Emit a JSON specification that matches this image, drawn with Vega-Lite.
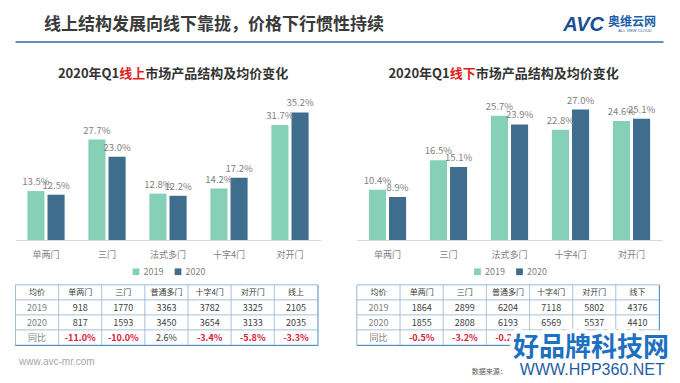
{
"$schema":"https://vega.github.io/schema/vega-lite/v6.json",
"background":"white",
"padding":{"left":14.5,"top":12,"right":10,"bottom":4},
"config":{"view":{"stroke":null},"font":"Noto Sans CJK SC","legend":{"layout":{"bottom":{"anchor":"middle"}}}},
"spacing":6,
"resolve":{"scale":{"color":"independent"}},
"vconcat":[
{"width":648,"height":30,
 "data":{"values":[{}]},
 "layer":[
  {"mark":{"type":"rule","color":"#2e6aa8","strokeWidth":1.5},"encoding":{"y":{"value":"height"}}},
  {"mark":{"type":"text","text":"线上结构发展向线下靠拢，价格下行惯性持续","align":"center","dx":-125.5,"dy":-2,"fontSize":17,"fontWeight":"bold","color":"#3a3a3a"},"encoding":{}},
  {"mark":{"type":"text","text":"AVC","align":"right","dx":-59.5,"dy":-2,"fontSize":20,"fontWeight":"bold","fontStyle":"italic","font":"Liberation Sans","color":"#1c4f94"},"encoding":{"x":{"value":"width"}}},
  {"mark":{"type":"text","text":"奥维云网","align":"left","dx":-55.5,"dy":-5,"fontSize":12,"fontWeight":"bold","color":"#1f5faa"},"encoding":{"x":{"value":"width"}}},
  {"mark":{"type":"text","text":"ALL VIEW CLOUD","align":"center","dx":-28.5,"dy":4,"fontSize":4,"font":"Liberation Sans","color":"#1f5faa"},"encoding":{"x":{"value":"width"}}}
 ]
},
{"columns":2,"spacing":{"row":45,"column":36.5},"bounds":"flush","resolve":{"scale":{"color":"independent"}},
 "concat":[
   {"width":305,"height":1,"data":{"values":[{}]},
    "layer":[
     {"mark":{"type":"text","text":"2020年Q1","align":"right","dx":-48.7,"dy":24,"fontSize":13,"fontWeight":"bold","color":"#333333"},"encoding":{}},
     {"mark":{"type":"text","text":"线上","align":"center","dx":-35.7,"dy":24,"fontSize":13,"fontWeight":"bold","color":"#e31c1c"},"encoding":{}},
     {"mark":{"type":"text","text":"市场产品结构及均价变化","align":"left","dx":-22.7,"dy":24,"fontSize":13,"fontWeight":"bold","color":"#333333"},"encoding":{}}
    ]},
   {"width":305,"height":1,"data":{"values":[{}]},
    "layer":[
     {"mark":{"type":"text","text":"2020年Q1","align":"right","dx":-59.7,"dy":24,"fontSize":13,"fontWeight":"bold","color":"#333333"},"encoding":{}},
     {"mark":{"type":"text","text":"线下","align":"center","dx":-46.7,"dy":24,"fontSize":13,"fontWeight":"bold","color":"#e31c1c"},"encoding":{}},
     {"mark":{"type":"text","text":"市场产品结构及均价变化","align":"left","dx":-33.7,"dy":24,"fontSize":13,"fontWeight":"bold","color":"#333333"},"encoding":{}}
    ]},
   {"width":305,"height":145,
    "data":{"values":[
     {"cat":"单两门","year":"2019","share":0.135},{"cat":"单两门","year":"2020","share":0.125},
     {"cat":"三门","year":"2019","share":0.277},{"cat":"三门","year":"2020","share":0.230},
     {"cat":"法式多门","year":"2019","share":0.128},{"cat":"法式多门","year":"2020","share":0.122},
     {"cat":"十字4门","year":"2019","share":0.142},{"cat":"十字4门","year":"2020","share":0.172},
     {"cat":"对开门","year":"2019","share":0.317},{"cat":"对开门","year":"2020","share":0.352}]},
    "encoding":{
     "x":{"field":"cat","type":"nominal","scale":{"domain":["单两门","三门","法式多门","十字4门","对开门"],"paddingInner":0.39,"paddingOuter":0.195},"axis":{"title":null,"labelAngle":0,"ticks":false,"domainColor":"#d9d9d9","labelColor":"#7f7f7f","labelFontSize":9,"labelPadding":10}},
     "xOffset":{"field":"year","type":"nominal","scale":{"domain":["2019","2020"],"paddingInner":0.15}},
     "y":{"field":"share","type":"quantitative","scale":{"domain":[0,0.4]},"axis":null}},
    "layer":[
     {"mark":"bar","encoding":{"color":{"field":"year","type":"nominal","scale":{"domain":["2019","2020"],"range":["#86d0b8","#3e6d8e"]},"legend":{"title":null,"orient":"bottom","direction":"horizontal","symbolType":"square","symbolSize":45,"labelFontSize":9,"labelColor":"#7f7f7f","offset":8,"columnPadding":10,"labelOffset":3}}}},
     {"mark":{"type":"text","baseline":"alphabetic","dy":-6,"fontSize":9.5,"color":"#7f7f7f"},"encoding":{"text":{"field":"share","type":"quantitative","format":".1%"}}}
    ]},
   {"width":305,"height":145,
    "data":{"values":[
     {"cat":"单两门","year":"2019","share":0.104},{"cat":"单两门","year":"2020","share":0.089},
     {"cat":"三门","year":"2019","share":0.165},{"cat":"三门","year":"2020","share":0.151},
     {"cat":"法式多门","year":"2019","share":0.257},{"cat":"法式多门","year":"2020","share":0.239},
     {"cat":"十字4门","year":"2019","share":0.228},{"cat":"十字4门","year":"2020","share":0.270},
     {"cat":"对开门","year":"2019","share":0.246},{"cat":"对开门","year":"2020","share":0.251}]},
    "encoding":{
     "x":{"field":"cat","type":"nominal","scale":{"domain":["单两门","三门","法式多门","十字4门","对开门"],"paddingInner":0.39,"paddingOuter":0.195},"axis":{"title":null,"labelAngle":0,"ticks":false,"domainColor":"#d9d9d9","labelColor":"#7f7f7f","labelFontSize":9,"labelPadding":10}},
     "xOffset":{"field":"year","type":"nominal","scale":{"domain":["2019","2020"],"paddingInner":0.15}},
     "y":{"field":"share","type":"quantitative","scale":{"domain":[0,0.3]},"axis":null}},
    "layer":[
     {"mark":"bar","encoding":{"color":{"field":"year","type":"nominal","scale":{"domain":["2019","2020"],"range":["#86d0b8","#3e6d8e"]},"legend":{"title":null,"orient":"bottom","direction":"horizontal","symbolType":"square","symbolSize":45,"labelFontSize":9,"labelColor":"#7f7f7f","offset":8,"columnPadding":10,"labelOffset":3}}}},
     {"mark":{"type":"text","baseline":"alphabetic","dy":-6,"fontSize":9.5,"color":"#7f7f7f"},"encoding":{"text":{"field":"share","type":"quantitative","format":".1%"}}}
    ]},
   {"width":302,"height":60,"view":{"stroke":"#2e75b6","strokeWidth":1.2},
    "data":{"values":[
     {"r":"均价","c":"均价","t":"均价"},{"r":"均价","c":"单两门","t":"单两门"},{"r":"均价","c":"三门","t":"三门"},{"r":"均价","c":"普通多门","t":"普通多门"},{"r":"均价","c":"十字4门","t":"十字4门"},{"r":"均价","c":"对开门","t":"对开门"},{"r":"均价","c":"合计","t":"线上"},
     {"r":"2019","c":"均价","t":"2019"},{"r":"2019","c":"单两门","t":"918"},{"r":"2019","c":"三门","t":"1770"},{"r":"2019","c":"普通多门","t":"3363"},{"r":"2019","c":"十字4门","t":"3782"},{"r":"2019","c":"对开门","t":"3325"},{"r":"2019","c":"合计","t":"2105"},
     {"r":"2020","c":"均价","t":"2020"},{"r":"2020","c":"单两门","t":"817"},{"r":"2020","c":"三门","t":"1593"},{"r":"2020","c":"普通多门","t":"3450"},{"r":"2020","c":"十字4门","t":"3654"},{"r":"2020","c":"对开门","t":"3133"},{"r":"2020","c":"合计","t":"2035"},
     {"r":"同比","c":"均价","t":"同比"},{"r":"同比","c":"单两门","t":"-11.0%"},{"r":"同比","c":"三门","t":"-10.0%"},{"r":"同比","c":"普通多门","t":"2.6%"},{"r":"同比","c":"十字4门","t":"-3.4%"},{"r":"同比","c":"对开门","t":"-5.8%"},{"r":"同比","c":"合计","t":"-3.3%"}]},
    "encoding":{
     "x":{"field":"c","type":"nominal","scale":{"domain":["均价","单两门","三门","普通多门","十字4门","对开门","合计"],"paddingInner":0,"paddingOuter":0},"axis":null},
     "y":{"field":"r","type":"nominal","scale":{"domain":["均价","2019","2020","同比"],"paddingInner":0,"paddingOuter":0},"axis":null}},
    "layer":[
     {"mark":{"type":"rect","fill":"white","stroke":"#9dbbd9","strokeWidth":0.7}},
     {"transform":[{"filter":"!(datum.r=='同比' && indexof(datum.t,'-')==0)"}],"mark":{"type":"text"},"encoding":{"text":{"field":"t"},"size":{"condition":{"test":"datum.r=='均价'","value":8},"value":9},"color":{"condition":{"test":"datum.c=='均价' && datum.r!='均价'","value":"#808080"},"value":"#404040"}}},
     {"transform":[{"filter":"datum.r=='同比' && indexof(datum.t,'-')==0"}],"mark":{"type":"text","fontSize":9,"fontWeight":"bold","color":"#d6203a"},"encoding":{"text":{"field":"t"}}},
     {"data":{"values":[{}]},"mark":{"type":"text","text":"www.avc-mr.com","align":"left","dx":-18,"dy":24.5,"fontSize":10,"font":"Liberation Sans","color":"#a6a6a6"},"encoding":{"x":{"datum":"均价"},"y":{"datum":"同比"}}}
    ]},
   {"width":302,"height":60,"view":{"stroke":"#2e75b6","strokeWidth":1.2},
    "data":{"values":[
     {"r":"均价","c":"均价","t":"均价"},{"r":"均价","c":"单两门","t":"单两门"},{"r":"均价","c":"三门","t":"三门"},{"r":"均价","c":"普通多门","t":"普通多门"},{"r":"均价","c":"十字4门","t":"十字4门"},{"r":"均价","c":"对开门","t":"对开门"},{"r":"均价","c":"合计","t":"线下"},
     {"r":"2019","c":"均价","t":"2019"},{"r":"2019","c":"单两门","t":"1864"},{"r":"2019","c":"三门","t":"2899"},{"r":"2019","c":"普通多门","t":"6204"},{"r":"2019","c":"十字4门","t":"7118"},{"r":"2019","c":"对开门","t":"5802"},{"r":"2019","c":"合计","t":"4376"},
     {"r":"2020","c":"均价","t":"2020"},{"r":"2020","c":"单两门","t":"1855"},{"r":"2020","c":"三门","t":"2808"},{"r":"2020","c":"普通多门","t":"6193"},{"r":"2020","c":"十字4门","t":"6569"},{"r":"2020","c":"对开门","t":"5537"},{"r":"2020","c":"合计","t":"4410"},
     {"r":"同比","c":"均价","t":"同比"},{"r":"同比","c":"单两门","t":"-0.5%"},{"r":"同比","c":"三门","t":"-3.2%"},{"r":"同比","c":"普通多门","t":"-0.2%"},{"r":"同比","c":"十字4门","t":"-7.7%"},{"r":"同比","c":"对开门","t":"-4.6%"},{"r":"同比","c":"合计","t":"0.8%"}]},
    "encoding":{
     "x":{"field":"c","type":"nominal","scale":{"domain":["均价","单两门","三门","普通多门","十字4门","对开门","合计"],"paddingInner":0,"paddingOuter":0},"axis":null},
     "y":{"field":"r","type":"nominal","scale":{"domain":["均价","2019","2020","同比"],"paddingInner":0,"paddingOuter":0},"axis":null}},
    "layer":[
     {"mark":{"type":"rect","fill":"white","stroke":"#9dbbd9","strokeWidth":0.7}},
     {"transform":[{"filter":"!(datum.r=='同比' && indexof(datum.t,'-')==0)"}],"mark":{"type":"text"},"encoding":{"text":{"field":"t"},"size":{"condition":{"test":"datum.r=='均价'","value":8},"value":9},"color":{"condition":{"test":"datum.c=='均价' && datum.r!='均价'","value":"#808080"},"value":"#404040"}}},
     {"transform":[{"filter":"datum.r=='同比' && indexof(datum.t,'-')==0"}],"mark":{"type":"text","fontSize":9,"fontWeight":"bold","color":"#d6203a"},"encoding":{"text":{"field":"t"}}},
     {"data":{"values":[{}]},"mark":{"type":"text","text":"好品牌科技网","fontSize":26,"fontWeight":"bold","fill":"white","stroke":"white","strokeWidth":9,"strokeJoin":"round","dx":-3.3,"dy":10},"encoding":{"x":{"datum":"对开门"},"y":{"datum":"同比"}}},
     {"data":{"values":[{}]},"mark":{"type":"text","text":"好品牌科技网","fontSize":26,"fontWeight":"bold","color":"#1e70c1","dx":-3.3,"dy":10},"encoding":{"x":{"datum":"对开门"},"y":{"datum":"同比"}}},
     {"data":{"values":[{}]},"mark":{"type":"text","text":"WWW.HPP360.NET","font":"Liberation Sans","fontSize":16,"color":"#1f5da5","dx":-2,"dy":32},"encoding":{"x":{"datum":"对开门"},"y":{"datum":"同比"}}},
     {"data":{"values":[{}]},"mark":{"type":"text","text":"数据来源：","fontSize":7,"color":"#595959","dx":-105,"dy":34},"encoding":{"x":{"datum":"对开门"},"y":{"datum":"同比"}}}
    ]}
 ]}
]
}
